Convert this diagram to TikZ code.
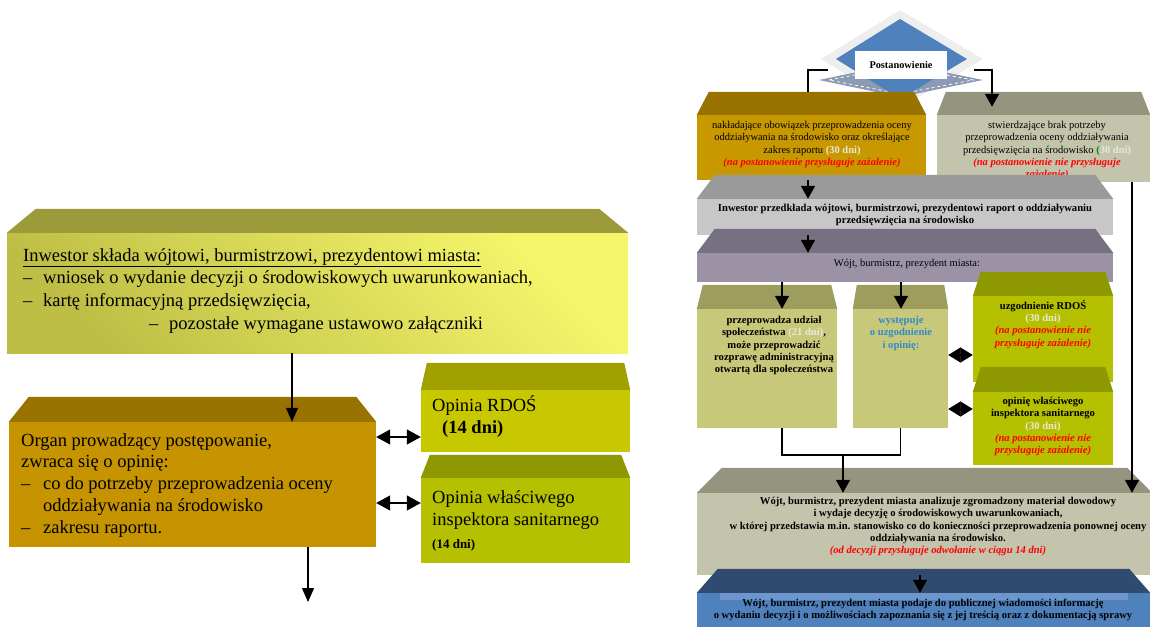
\documentclass[tikz,border=0pt]{standalone}
\usepackage{fontspec}
\setmainfont{Liberation Serif}
\usetikzlibrary{arrows.meta, fit}

\definecolor{aTop}{HTML}{9B9B3C}
\definecolor{aLeft}{HTML}{BEBE46}
\definecolor{aRight}{HTML}{F6F66C}
\definecolor{orgTop}{HTML}{9A7200}
\definecolor{orgFront}{HTML}{C59400}
\definecolor{brownFront}{HTML}{C89800}
\definecolor{rdosTop}{HTML}{A0A000}
\definecolor{rdosFront}{HTML}{C8C800}
\definecolor{limeTop}{HTML}{8E9800}
\definecolor{limeFront}{HTML}{B4C000}
\definecolor{greyTop}{HTML}{95957F}
\definecolor{greyFront}{HTML}{C4C4AD}
\definecolor{silverTop}{HTML}{9A9A9A}
\definecolor{silverFront}{HTML}{C7C7C7}
\definecolor{lilacTop}{HTML}{777081}
\definecolor{lilacFront}{HTML}{9C92A6}
\definecolor{khakiTop}{HTML}{9D9D5D}
\definecolor{khakiFront}{HTML}{C8C87A}
\definecolor{navyTop}{HTML}{2F4B6F}
\definecolor{navyFront}{HTML}{4F81BD}
\definecolor{navyLight}{HTML}{6D97CC}
\definecolor{diamBlue}{HTML}{4F81BD}
\definecolor{diamLight}{HTML}{EEEEEE}
\definecolor{diamGrey}{HTML}{8C9BB3}
\definecolor{daysGrey}{HTML}{E8E8DC}
\definecolor{noteRed}{HTML}{FF0000}
\definecolor{askBlue}{HTML}{2E8BC8}

% pudelko 3D: nazwa, lewy gorny rog, prawy dolny rog, wciecie, glebokosc, kolor gory, styl frontu
\newcommand{\bevelbox}[7]{%
  \node[fit={#2 #3}, inner sep=0pt, #7] (#1) {};
  \fill[#6] (#1.north west) -- ([xshift=#4, yshift=#5]#1.north west)
    -- ([xshift=-#4, yshift=#5]#1.north east) -- (#1.north east) -- cycle;
}
\newcommand{\dni}[1]{\textcolor{daysGrey}{#1}}
\newcommand{\uwaga}[1]{\textcolor{noteRed}{\textbf{\textit{#1}}}}

\tikzset{
  bigtxt/.style={font=\fontsize{18.5}{22.7}\selectfont, align=left, inner sep=0pt, anchor=north west},
  smalltxt/.style={font=\fontsize{10.5}{12.3}\selectfont, align=center, inner sep=0pt, anchor=north},
  smallbold/.style={smalltxt, font=\fontsize{10.6}{12.3}\selectfont\bfseries},
  larr/.style={line width=1.2pt, -{Triangle[width=12pt,length=14pt]}},
  ldbl/.style={line width=1.2pt, {Triangle[width=15pt,length=14pt]}-{Triangle[width=15pt,length=14pt]}},
  rline/.style={line width=1.5pt},
  rarr/.style={line width=1.5pt, -{Triangle[width=14pt,length=13pt]}},
  rdbl/.style={line width=1.5pt, {Triangle[width=15pt,length=12.5pt]}-{Triangle[width=15pt,length=12.5pt]}},
  postbox/.style={fill=white, minimum width=92pt, minimum height=28pt, inner sep=0pt,
    font=\fontsize{10.3}{12.3}\selectfont\bfseries},
}

\begin{document}
\begin{tikzpicture}[x=1pt, y=-1pt]
  \useasboundingbox (0,0) rectangle (1150,626);
  % 1. Lewa strona
  \bevelbox{inwestor}{(7,233)}{(628,353)}{29pt}{24pt}{aTop}{top color=aRight, bottom color=aLeft, shading angle=-45}
  \node[bigtxt] (inwestor-t) at (23,248) {\underline{Inwestor składa wójtowi, burmistrzowi, prezydentowi miasta:}\\
    \makebox[20pt][l]{–}wniosek o wydanie decyzji o środowiskowych uwarunkowaniach,\\
    \makebox[20pt][l]{–}kartę informacyjną przedsięwzięcia,\\
    \hspace*{126pt}\makebox[20pt][l]{–}pozostałe wymagane ustawowo załączniki};
  \bevelbox{organ}{(9,422)}{(376,547)}{20pt}{25pt}{orgTop}{fill=orgFront}
  \node[bigtxt, font=\fontsize{18.5}{21.8}\selectfont] (organ-t) at (21,433) {Organ prowadzący postępowanie,\\ zwraca się o opinię:\\
    \makebox[22pt][l]{–}co do potrzeby przeprowadzenia oceny\\
    \hspace*{22pt}oddziaływania na środowisko\\
    \makebox[22pt][l]{–}zakresu raportu.};
  \bevelbox{rdos}{(421,390)}{(630,452)}{6pt}{27pt}{rdosTop}{fill=rdosFront}
  \node[bigtxt] (rdos-t) at (432,395) {Opinia RDOŚ\\ \hspace*{10pt}\textbf{(14 dni)}};
  \bevelbox{sanepid}{(421,478)}{(630,563)}{9pt}{23pt}{limeTop}{fill=limeFront}
  \node[bigtxt] (sanepid-t) at (432,490) {Opinia właściwego\\ inspektora sanitarnego\\
    {\fontsize{13}{15}\selectfont\textbf{(14 dni)}}};
  \coordinate (dalej) at (308,602);
  \draw[larr] ([xshift=-25.5pt]inwestor.south) -- ([xshift=99.5pt]organ.north);
  \draw[larr] (organ.south -| dalej) -- (dalej);
  \draw[ldbl] ([yshift=47.5pt]organ.east) -- ([yshift=47.5pt]organ.east -| rdos.west);
  \draw[ldbl] ([yshift=-18.5pt]organ.east) -- ([yshift=-18.5pt]organ.east -| sanepid.west);

  % 2. Postanowienie
  \fill[diamLight] (900,10) -- (983,59) -- (900,108) -- (821,59) -- cycle;
  \fill[diamGrey] (819,80) -- (900,63) -- (983,80) -- (900,97) -- cycle;
  \draw[white, dashed, line width=0.8pt] (829,80) -- (900,66) -- (973,80) -- (900,94) -- cycle;
  \fill[diamBlue] (900,19) -- (967,59) -- (900,99) -- (836,59) -- cycle;
  \node[postbox] (post) at (901,65) {Postanowienie};
  \coordinate (pl) at (828,70);
  \coordinate (pr) at (974,70);

  % 3. Prawa strona
  \bevelbox{obowiazek}{(697,115)}{(926,180)}{12pt}{23pt}{orgTop}{fill=brownFront}
  \draw[rline] (pl) -| ([xshift=-3.5pt, yshift=23pt]obowiazek.north);
  \node[smalltxt] (obowiazek-t) at (812,121) {nakładające obowiązek przeprowadzenia oceny\\
    oddziaływania na środowisko oraz określające\\ zakres raportu \textbf{\dni{(30 dni)}}\\
    \uwaga{(na postanowienie przysługuje zażalenie)}};
  \bevelbox{brak}{(937,115)}{(1150,182)}{9pt}{23pt}{greyTop}{fill=greyFront}
  \node[smalltxt] (brak-t) at (1047,121) {stwierdzające brak potrzeby\\
    przeprowadzenia oceny oddziaływania\\
    przedsięwzięcia na środowisko \textbf{\textcolor{green!55!black}{(}\dni{30 dni)}}\\
    \uwaga{(na postanowienie nie przysługuje}\\ \uwaga{zażalenie)}};
  \bevelbox{raport}{(697,199)}{(1113,235)}{18pt}{24pt}{silverTop}{fill=silverFront}
  \node[smallbold] (raport-t) at (905,204) {Inwestor przedkłada wójtowi, burmistrzowi, prezydentowi raport o oddziaływaniu\\
    przedsięwzięcia na środowisko};
  \bevelbox{wojt}{(697,253)}{(1113,282)}{18pt}{24pt}{lilacTop}{fill=lilacFront}
  \node[smalltxt] (wojt-t) at (907,259) {Wójt, burmistrz, prezydent miasta:};
  \bevelbox{udzial}{(697,309)}{(837,428)}{6pt}{24pt}{khakiTop}{fill=khakiFront}
  \node[smallbold] (udzial-t) at (774,316) {przeprowadza udział\\ społeczeństwa \dni{(21 dni)},\\
    może przeprowadzić\\ rozprawę administracyjną\\ otwartą dla społeczeństwa};
  \bevelbox{wystepuje}{(853,309)}{(948,428)}{4pt}{24pt}{khakiTop}{fill=khakiFront}
  \node[smallbold, text=askBlue] (wystepuje-t) at (901,316) {występuje\\ o uzgodnienie\\ i opinię:};
  \bevelbox{uzgodnienie}{(973,296)}{(1113,382)}{8pt}{24pt}{limeTop}{fill=limeFront}
  \node[smallbold] (uzgodnienie-t) at (1043,300) {uzgodnienie RDOŚ\\ \dni{(30 dni)}\\
    \uwaga{(na postanowienie nie}\\ \uwaga{przysługuje zażalenie)}};
  \bevelbox{opinia}{(973,392)}{(1113,465)}{8pt}{25pt}{limeTop}{fill=limeFront}
  \node[smallbold] (opinia-t) at (1043,397) {opinię właściwego\\ inspektora sanitarnego\\ \dni{(30 dni)}\\
    \uwaga{(na postanowienie nie}\\ \uwaga{przysługuje zażalenie)}};
  \bevelbox{decyzja}{(697,493)}{(1152,575)}{25pt}{25pt}{greyTop}{fill=greyFront}
  \node[smallbold] (decyzja-t) at (938,497) {Wójt, burmistrz, prezydent miasta analizuje zgromadzony materiał dowodowy\\
    i wydaje decyzję o środowiskowych uwarunkowaniach,\\
    w której przedstawia m.in. stanowisko co do konieczności przeprowadzenia ponownej oceny\\
    oddziaływania na środowisko.\\ \uwaga{(od decyzji przysługuje odwołanie w ciągu 14 dni)}};
  \bevelbox{ogloszenie}{(697,593)}{(1150,640)}{21pt}{24pt}{navyTop}{fill=navyFront}
  \fill[navyLight] (720,593) rectangle (1128,600);
  \node[smallbold] (ogloszenie-t) at (923,599) {Wójt, burmistrz, prezydent miasta podaje do publicznej wiadomości informację\\
    o wydaniu decyzji i o możliwościach zapoznania się z jej treścią oraz z dokumentacją sprawy};

  % 4. Polaczenia
  \coordinate (zbieg) at (843,455);
  \draw[rarr, shorten >=8pt] (pr) -| ([xshift=-51.5pt]brak.north);
  \draw[rarr] ([xshift=-3.5pt]obowiazek.south) -- ([xshift=-3.5pt]obowiazek.south |- raport.north);
  \draw[rarr] ([xshift=-97pt]raport.south) -- ([xshift=-97pt]raport.south |- wojt.north);
  \draw[rarr] ([xshift=-123pt]wojt.south) -- ([xshift=-123pt]wojt.south |- udzial.north);
  \draw[rarr] ([xshift=-4pt]wojt.south) -- ([xshift=-4pt]wojt.south |- wystepuje.north);
  \draw[rdbl] ([yshift=13.5pt]wystepuje.east) -- ([yshift=13.5pt]wystepuje.east -| uzgodnienie.west);
  \draw[rdbl] ([yshift=-40.5pt]wystepuje.east) -- ([yshift=-40.5pt]wystepuje.east -| opinia.west);
  \draw[rline] ([xshift=15pt]udzial.south) |- (zbieg) -| (wystepuje.south);
  \draw[rarr] (zbieg) -- (zbieg |- decyzja.north);
  \draw[rarr] ([xshift=88.5pt]brak.south) -- ([xshift=88.5pt]brak.south |- decyzja.north);
  \draw[rarr] ([xshift=-4.5pt]decyzja.south) -- ([xshift=-4.5pt]decyzja.south |- ogloszenie.north);
\end{tikzpicture}
\end{document}
